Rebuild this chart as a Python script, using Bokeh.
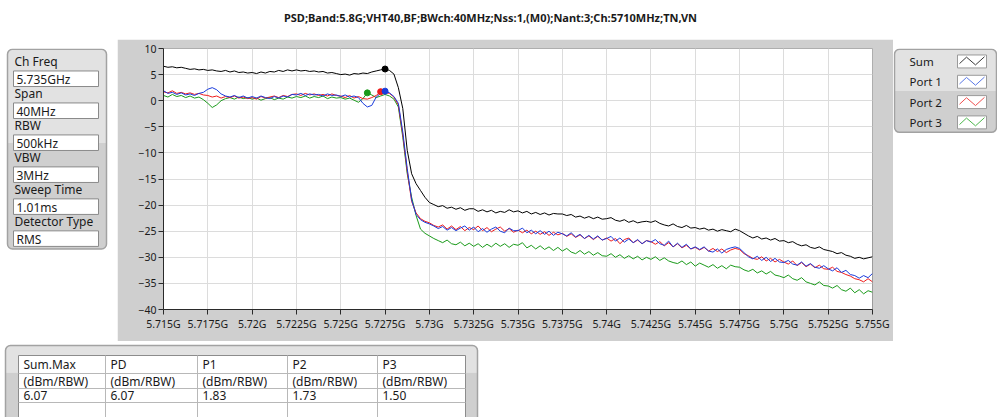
import numpy as np
from bokeh.plotting import figure
from bokeh.models import Range1d, FixedTicker, BoxAnnotation, CustomJSTickFormatter
from bokeh.layouts import column, row
from bokeh.core.properties import value
from bokeh.embed import file_html
from bokeh.resources import INLINE

# ------------------------------------------------------------------ data
title_text = "PSD;Band:5.8G;VHT40,BF;BWch:40MHz;Nss:1,(M0);Nant:3;Ch:5710MHz;TN,VN"

freq_start_ghz = 5.715
freq_step_ghz = 0.00025

sum_db = [
    6.6, 6.4, 6.5, 6.3, 6.4, 6.2, 6.0, 6.1, 5.9, 6.0,
    5.8, 5.9, 5.7, 5.6, 5.8, 5.5, 5.7, 5.4, 5.5, 5.3,
    5.4, 5.2, 5.5, 5.3, 5.6, 5.5, 5.8, 5.6, 5.9, 5.7,
    5.9, 5.7, 5.8, 5.6, 5.7, 5.5, 5.6, 5.3, 5.4, 5.2,
    5.0, 5.1, 4.9, 5.2, 5.1, 5.3, 5.2, 5.5, 5.7, 5.9,
    6.07, 5.8, 5.1, 2.5, -1.5, -9.5, -14.0, -15.9, -17.2, -18.5,
    -19.5, -19.9, -20.3, -20.1, -20.6, -20.4, -20.8, -20.5, -21.0, -20.7,
    -20.7, -21.2, -20.9, -21.3, -21.0, -21.5, -21.2, -21.4, -20.9, -21.3,
    -21.1, -21.5, -21.2, -21.7, -21.4, -21.8, -21.5, -21.9, -21.6, -21.7,
    -21.7, -22.0, -21.8, -22.3, -22.1, -22.5, -22.2, -22.6, -22.3, -22.7,
    -22.6, -22.4, -22.9, -23.1, -22.8, -23.3, -23.0, -23.4, -23.2, -23.1,
    -23.3, -23.0, -23.5, -23.8, -24.0, -23.6, -24.1, -24.3, -23.9, -24.4,
    -24.3, -24.6, -24.4, -24.8, -24.6, -25.0, -24.7, -24.9, -25.1, -24.6,
    -24.9, -25.4, -25.9, -26.3, -26.0, -26.5, -26.3, -26.7, -26.4, -26.9,
    -26.8, -27.2, -27.0, -27.5, -27.8, -27.6, -28.1, -28.3, -28.0, -28.5,
    -28.7, -28.9, -29.3, -29.1, -29.6, -29.8, -30.2, -30.0, -30.3, -30.1, -29.9,
]

port1_db = [
    1.9, 1.4, 1.6, 1.2, 1.5, 1.1, 1.3, 1.0, 1.4, 1.6,
    2.2, 2.5, 2.1, 1.3, 0.9, 0.7, 1.0, 0.6, 0.9, 0.5,
    0.8, 0.5, 0.9, 0.6, 0.4, 0.8, 0.5, 0.9, 0.7, 1.2,
    1.1, 1.4, 1.0, 1.3, 1.1, 1.2, 0.9, 1.3, 1.0, 1.1,
    0.8, 1.1, 0.7, 0.9, 0.6, -0.5, -1.2, -0.9, 0.7, 1.4,
    1.83, 1.5, 0.8, -0.5, -6.0, -13.0, -19.0, -21.8, -22.8, -23.3,
    -23.6, -24.0, -24.5, -24.1, -24.8, -24.3, -24.9, -24.4, -24.0, -24.8,
    -24.2, -25.1, -24.5, -25.2, -24.6, -24.2, -25.0, -25.3, -24.4, -24.9,
    -24.9, -24.4, -25.3, -24.8, -25.5, -24.9, -25.6, -25.0, -25.8, -25.2,
    -25.5, -25.9, -25.3, -26.1, -25.6, -26.4, -25.8, -26.5, -25.9, -26.7,
    -26.4, -26.0, -26.9, -26.3, -27.1, -26.5, -27.2, -26.6, -27.4, -26.8,
    -27.1, -26.6, -27.4, -27.7, -26.9, -28.0, -27.3, -28.1, -27.5, -28.4,
    -28.0, -28.5, -28.0, -28.8, -29.0, -28.4, -29.2, -28.5, -28.2, -28.0,
    -28.3, -29.1, -29.9, -30.3, -29.8, -30.6, -30.0, -30.8, -30.2, -30.9,
    -31.0, -30.6, -31.3, -31.5, -30.9, -31.7, -31.2, -31.9, -32.1, -31.6,
    -32.2, -32.6, -32.0, -32.9, -32.5, -33.3, -33.5, -34.0, -33.5, -33.9, -33.1,
]

port2_db = [
    1.7, 1.5, 1.9, 1.4, 1.6, 1.3, 1.5, 1.2, 1.4, 1.1,
    1.0, 0.7, 0.9, 0.5, 0.8, 0.6, 0.9, 0.5, 0.7, 0.4,
    0.6, 0.3, 0.8, 0.5, 0.7, 0.9, 0.6, 1.0, 0.8, 1.2,
    1.3, 1.0, 1.4, 1.1, 1.3, 1.0, 1.2, 0.9, 1.3, 1.0,
    0.9, 0.6, 1.0, 0.5, 0.8, 0.4, 0.3, 0.6, 1.0, 1.73,
    1.6, 1.4, 0.7, -0.8, -6.5, -13.5, -19.3, -21.5, -22.6, -23.1,
    -23.4, -23.9, -24.2, -23.8, -24.6, -24.0, -24.7, -24.1, -24.9, -24.3,
    -24.7, -24.0, -24.9, -24.3, -25.1, -24.6, -24.2, -25.0, -24.5, -25.2,
    -24.8, -25.3, -24.8, -25.5, -25.0, -25.6, -25.1, -25.8, -25.2, -25.7,
    -25.4, -26.0, -25.5, -26.2, -25.7, -26.4, -25.9, -26.6, -26.0, -26.7,
    -26.3, -26.9, -26.4, -27.4, -26.6, -26.3, -27.2, -26.7, -27.4, -26.8,
    -27.0, -27.5, -27.0, -27.8, -27.2, -28.0, -27.4, -28.2, -27.7, -28.4,
    -28.1, -28.6, -28.1, -28.8, -28.3, -28.9, -28.4, -29.1, -28.6, -28.3,
    -28.5, -29.3, -29.7, -30.2, -30.4, -29.9, -30.7, -30.2, -30.9, -30.4,
    -30.9, -31.3, -30.7, -31.6, -31.0, -31.8, -31.3, -32.0, -31.5, -32.2,
    -32.3, -31.9, -32.7, -32.9, -33.3, -33.6, -34.1, -34.3, -34.7, -34.1, -34.7,
]

port3_db = [
    1.0, 0.7, 1.2, 0.8, 1.0, 0.6, 0.9, 0.5, 0.7, 0.2,
    -0.5, -1.3, -0.8, 0.0, 0.4, 0.6, 0.3, 0.7, 0.4, 0.6,
    0.3, 0.5, 0.1, 0.4, 0.6, 0.2, 0.5, 0.3, 0.7, 0.5,
    0.8, 0.6, 0.9, 0.5, 0.8, 0.6, 0.9, 0.4, 0.7, 0.5,
    0.6, 0.3, 0.5, 0.1, -0.3, 0.4, 1.5, 1.1, 0.6, 0.9,
    1.2, 0.9, 0.3, -1.2, -7.0, -14.0, -18.5, -22.0, -24.6, -25.4,
    -25.9, -26.4, -26.8, -27.2, -26.7, -27.4, -27.6, -27.1, -27.8, -27.3,
    -27.9, -27.4, -28.1, -27.5, -28.0, -27.3, -27.9, -27.4, -28.1, -27.5,
    -27.7, -27.2, -28.2, -27.7, -28.4, -27.8, -28.5, -28.0, -28.7, -28.1,
    -28.8, -28.3, -29.0, -29.3, -28.7, -29.4, -28.9, -29.6, -29.1, -29.7,
    -29.8, -29.3, -30.0, -29.5, -30.2, -29.7, -30.3, -29.8, -30.5, -30.0,
    -30.4, -29.9, -30.6, -30.1, -30.7, -31.0, -31.2, -30.7, -31.4, -30.9,
    -31.7, -31.1, -31.5, -31.9, -31.4, -32.1, -31.6, -32.2, -31.5, -31.8,
    -31.9, -32.4, -32.7, -32.3, -33.0, -32.6, -33.2, -32.7, -33.4, -33.6,
    -33.9, -33.4, -34.1, -34.4, -33.9, -34.7, -35.0, -35.3, -34.7, -35.4,
    -35.5, -35.9, -35.4, -36.2, -36.5, -35.9, -36.8, -36.2, -37.0, -36.4, -36.7,
]

series_names = ["Sum", "Port 1", "Port 2", "Port 3"]
series_colors = ["#000000", "#1a3cdc", "#ee1c1c", "#1a9a1a"]
legend_colors = ["#3a3a3a", "#5a78e6", "#f05050", "#4cb84c"]

peak_freq_ghz = [5.7275, 5.7275, 5.72725, 5.7265]
peak_db = [6.07, 1.83, 1.73, 1.50]

x_ticks = [5.715, 5.7175, 5.72, 5.7225, 5.725, 5.7275, 5.73, 5.7325, 5.735,
           5.7375, 5.74, 5.7425, 5.745, 5.7475, 5.75, 5.7525, 5.755]
x_tick_labels = ["5.715G", "5.7175G", "5.72G", "5.7225G", "5.725G", "5.7275G",
                 "5.73G", "5.7325G", "5.735G", "5.7375G", "5.74G", "5.7425G",
                 "5.745G", "5.7475G", "5.75G", "5.7525G", "5.755G"]
y_ticks = [10, 5, 0, -5, -10, -15, -20, -25, -30, -35, -40]

setting_labels = ["Ch Freq", "Span", "RBW", "VBW", "Sweep Time", "Detector Type"]
setting_values = ["5.735GHz", "40MHz", "500kHz", "3MHz", "1.01ms", "RMS"]

table_headers = ["Sum.Max", "PD", "P1", "P2", "P3"]
table_units = ["(dBm/RBW)", "(dBm/RBW)", "(dBm/RBW)", "(dBm/RBW)", "(dBm/RBW)"]
table_values = [6.07, 6.07, 1.83, 1.73, 1.50]

# ------------------------------------------------------------------ style
UI_FONT = "Noto Sans"
TXT = "#1a1a1a"
LIGHT = "#e2e2e2"
DARK = "#cfcfcf"
EDGE = "#a2a2a2"
RAD = 5

freq = freq_start_ghz + freq_step_ghz * np.arange(len(sum_db))


def canvas(w, h):
    f = figure(width=w, height=h, x_range=Range1d(0, w), y_range=Range1d(h, 0),
               toolbar_location=None, output_backend="svg", min_border=0,
               x_axis_location=None, y_axis_location=None)
    f.outline_line_color = None
    f.background_fill_color = "white"
    f.border_fill_color = "white"
    f.xgrid.visible = False
    f.ygrid.visible = False
    return f


def panel(f, l, r, t, b, split):
    f.quad(left=[l], right=[r], top=[t], bottom=[split], fill_color=LIGHT,
           line_color=None, border_radius=(RAD, RAD, 0, 0))
    f.quad(left=[l], right=[r], top=[split], bottom=[b], fill_color=DARK,
           line_color=None, border_radius=(0, 0, RAD, RAD))
    f.quad(left=[l], right=[r], top=[t], bottom=[b], fill_color=None,
           line_color=EDGE, line_width=1.5, border_radius=RAD)


def txt(f, xs, ys, texts, size="12px", align="left", color=TXT, style="normal"):
    f.text(x=xs, y=ys, text=texts, text_font=value(UI_FONT), text_font_size=size,
           text_align=align, text_baseline="middle", text_color=color,
           text_font_style=style)


# ------------------------------------------------------------------ title (page y 0..39)
title_fig = canvas(997, 39)
txt(title_fig, [490], [17], [title_text], size="11px", align="center", style="bold")

# ------------------------------------------------------------------ settings panel (page x 0..117, y 39..341)
left_fig = canvas(117, 302)
panel(left_fig, 7, 106, 1, 232, 109)
lab_y = [15 + 37 * k for k in range(len(setting_labels))]
box_top = [y + 11 for y in lab_y]
left_fig.quad(left=13, right=98, top=box_top, bottom=[t + 18 for t in box_top],
              fill_color="white", line_color="#8a8a8a", line_width=1)
txt(left_fig, [14] * len(lab_y), lab_y, setting_labels)
txt(left_fig, [16] * len(lab_y), [t + 9.5 for t in box_top], setting_values)

# ------------------------------------------------------------------ main chart (page x 117..893)
chart = figure(width=776, height=302,
               x_range=Range1d(x_ticks[0], x_ticks[-1]),
               y_range=Range1d(y_ticks[-1], y_ticks[0]),
               toolbar_location=None, output_backend="svg",
               min_border_left=46, min_border_right=21,
               min_border_top=9, min_border_bottom=32)
chart.border_fill_color = DARK
chart.background_fill_color = "white"
chart.outline_line_color = "#9c9c9c"

for (l, r, b, t) in [(-46, 0, 130, 270), (709, 730, 130, 270), (0, 709, 261, 270)]:
    chart.add_layout(BoxAnnotation(left=l, right=r, bottom=b, top=t,
                                   left_units="screen", right_units="screen",
                                   top_units="screen", bottom_units="screen",
                                   fill_color=LIGHT, fill_alpha=1.0, line_color=None,
                                   level="underlay"))
chart.add_layout(BoxAnnotation(left=-46, right=729, bottom=-30, top=270,
                               left_units="screen", right_units="screen",
                               top_units="screen", bottom_units="screen",
                               fill_alpha=0.0, line_color=EDGE, line_width=1.5,
                               level="underlay"))

chart.xaxis.ticker = FixedTicker(ticks=x_ticks)
chart.xaxis.formatter = CustomJSTickFormatter(
    args=dict(tvals=x_ticks, tlabels=x_tick_labels),
    code="""
    let best = 0, d = Infinity;
    for (let i = 0; i < tvals.length; i++) {
        const e = Math.abs(tvals[i] - tick);
        if (e < d) { d = e; best = i; }
    }
    return tlabels[best];
    """)
chart.yaxis.ticker = FixedTicker(ticks=y_ticks)
chart.grid.grid_line_color = "#dcdcdc"
chart.grid.grid_line_width = 1
chart.axis.major_tick_in = 0
chart.axis.major_tick_out = 5
chart.axis.minor_tick_in = 0
chart.axis.minor_tick_out = 0
chart.axis.axis_line_color = "#2a2a2a"
chart.axis.major_tick_line_color = "#2a2a2a"
chart.axis.major_label_text_font = UI_FONT
chart.axis.major_label_text_font_size = "10.5px"
chart.axis.major_label_text_color = TXT
chart.axis.major_label_standoff = 2

series = [sum_db, port1_db, port2_db, port3_db]
for idx in [0, 3, 2, 1]:
    chart.line(freq, series[idx], line_color=series_colors[idx], line_width=1)
for idx in [0, 3, 2, 1]:
    chart.scatter([peak_freq_ghz[idx]], [peak_db[idx]], size=6,
                  fill_color=series_colors[idx], line_color=series_colors[idx])

# ------------------------------------------------------------------ legend panel (page x 893..997)
leg_fig = canvas(104, 302)
panel(leg_fig, 1, 103, 1, 97, 49)
row_y = [15, 38.5, 62, 85.5]
txt(leg_fig, [16] * 4, row_y, series_names, size="11.5px")
sw_l, sw_w = 64, 29
leg_fig.quad(left=sw_l, right=sw_l + sw_w, top=[y - 7.5 for y in row_y],
             bottom=[y + 7.5 for y in row_y], fill_color="white",
             line_color="#9a9a9a", line_width=1)
zig_x = [2, 9, 18, 27]
zig_y = [10, 2.5, 11.5, 2]
leg_fig.multi_line(xs=[[sw_l + zx for zx in zig_x] for _ in row_y],
                   ys=[[y - 7.5 + zy for zy in zig_y] for y in row_y],
                   line_color=legend_colors, line_width=1)

# ------------------------------------------------------------------ table panel (page y 341..417)
tab_fig = canvas(480, 76)
panel(tab_fig, 5, 477, 4, 90, 31)
col_l = [18, 105, 197, 287, 377]
tab_r = 465
row_lines = [32, 47, 61]
tab_fig.quad(left=[col_l[0]], right=[tab_r], top=[14], bottom=[90], fill_color="white",
             line_color="#8c8c8c", line_width=1)
tab_fig.segment(x0=[col_l[0]] * 3, x1=[tab_r] * 3, y0=row_lines, y1=row_lines,
                line_color="#b8b8b8", line_width=1)
tab_fig.segment(x0=col_l[1:], x1=col_l[1:], y0=[14] * 4, y1=[90] * 4,
                line_color="#b8b8b8", line_width=1)
cx = [c + 5 for c in col_l]
txt(tab_fig, cx, [23] * 5, table_headers)
txt(tab_fig, cx, [40] * 5, table_units)
txt(tab_fig, cx, [54] * 5, ["%.2f" % v for v in table_values])

layout = column(title_fig, row(left_fig, chart, leg_fig), tab_fig)
open("out.html", "w").write(file_html(layout, INLINE))
